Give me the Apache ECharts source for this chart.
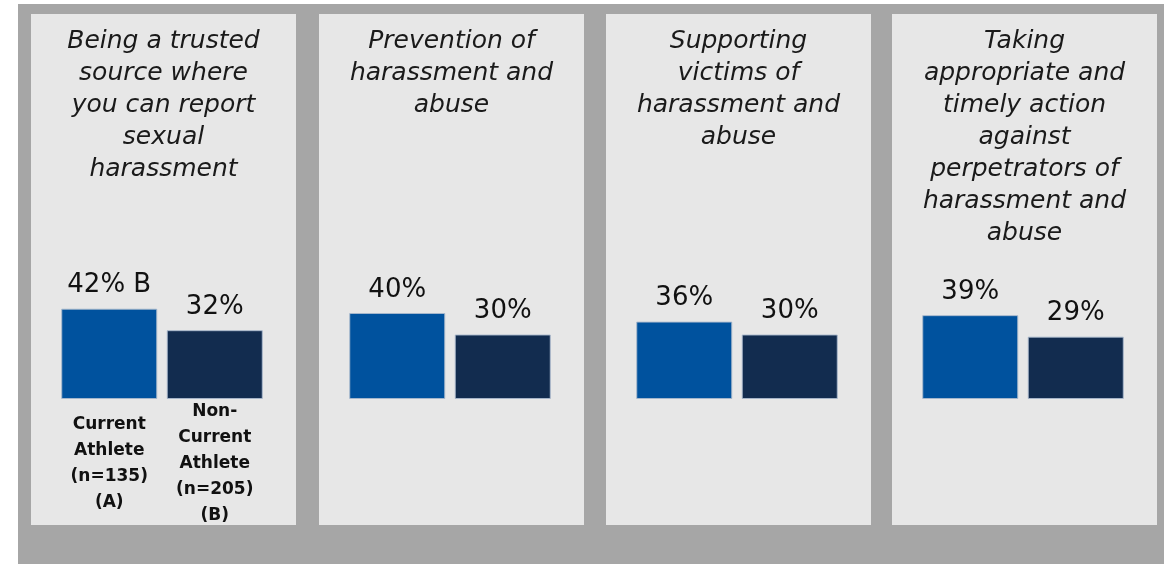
<!DOCTYPE html>
<html>
<head>
<meta charset="utf-8">
<script src="https://cdn.jsdelivr.net/npm/echarts@6/dist/echarts.min.js"></script>
<style>
html,body{margin:0;padding:0;background:#fff;}
#chart{width:1170px;height:564px;}
</style>
</head>
<body>
<div id="chart"></div>
<script>
// ---- data ----
const panelTitles = [
  "Being a trusted\nsource where\nyou can report\nsexual\nharassment",
  "Prevention of\nharassment and\nabuse",
  "Supporting\nvictims of\nharassment and\nabuse",
  "Taking\nappropriate and\ntimely action\nagainst\nperpetrators of\nharassment and\nabuse"
];
const categories = ["Current\nAthlete\n(n=135)\n(A)", "Non-\nCurrent\nAthlete\n(n=205)\n(B)"];
const currentAthlete = [42, 40, 36, 39];
const nonCurrentAthlete = [32, 30, 30, 29];
const sigCurrent = ["B", "", "", ""];
const sigNonCurrent = ["", "", "", ""];

// ---- layout / style ----
const panelLeft = [31, 319, 606, 892];
const panelW = 265;
const panelTop = 14, panelBottom = 525;
const colors = ["#00529e", "#122c4f"];

const chart = echarts.init(document.getElementById('chart'));

const graphics = [
  {type:'rect', shape:{x:18, y:4, width:1146, height:560}, style:{fill:'#a6a6a6'}, z:-10}
];
panelLeft.forEach(l => graphics.push({
  type:'rect', shape:{x:l, y:panelTop, width:panelW, height:panelBottom-panelTop},
  style:{fill:'#e7e7e7'}, z:-9
}));

const grids = [], xAxes = [], yAxes = [], series = [], titles = [];
panelLeft.forEach((l, i) => {
  grids.push({left: l + 25.5, top: 184, width: 211, height: 215});
  xAxes.push({
    type:'category', gridIndex:i, data:categories,
    axisLine:{show:false}, axisTick:{show:false},
    axisLabel:{
      show: i === 0, interval:0, margin:65, verticalAlign:'middle',
      fontFamily:'DejaVu Sans', fontWeight:'bold', fontSize:17, lineHeight:26, color:'#111'
    }
  });
  yAxes.push({type:'value', gridIndex:i, min:0, max:100, show:false, splitLine:{show:false}});
  const sigs = [sigCurrent[i], sigNonCurrent[i]];
  series.push({
    type:'bar', xAxisIndex:i, yAxisIndex:i, barWidth:96,
    data:[currentAthlete[i], nonCurrentAthlete[i]].map((v, j) => ({
      value:v,
      itemStyle:{color:colors[j], borderColor:'rgba(170,185,205,0.9)', borderWidth:1}
    })),
    label:{
      show:true, position:'top', distance:10,
      fontFamily:'DejaVu Sans', fontSize:26, color:'#111',
      formatter: p => p.value + '%' + (sigs[p.dataIndex] ? ' ' + sigs[p.dataIndex] : '')
    },
    silent:true
  });
  titles.push({
    text: panelTitles[i], left: l + panelW/2, top: 25, textAlign:'center', padding:0,
    textStyle:{fontFamily:'DejaVu Sans', fontStyle:'italic', fontWeight:'normal', fontSize:25, lineHeight:32, color:'#1a1a1a'}
  });
});

chart.setOption({
  backgroundColor:'#ffffff',
  animation:false,
  title: titles,
  graphic: graphics,
  grid: grids,
  xAxis: xAxes,
  yAxis: yAxes,
  series: series
});
</script>
</body>
</html>
